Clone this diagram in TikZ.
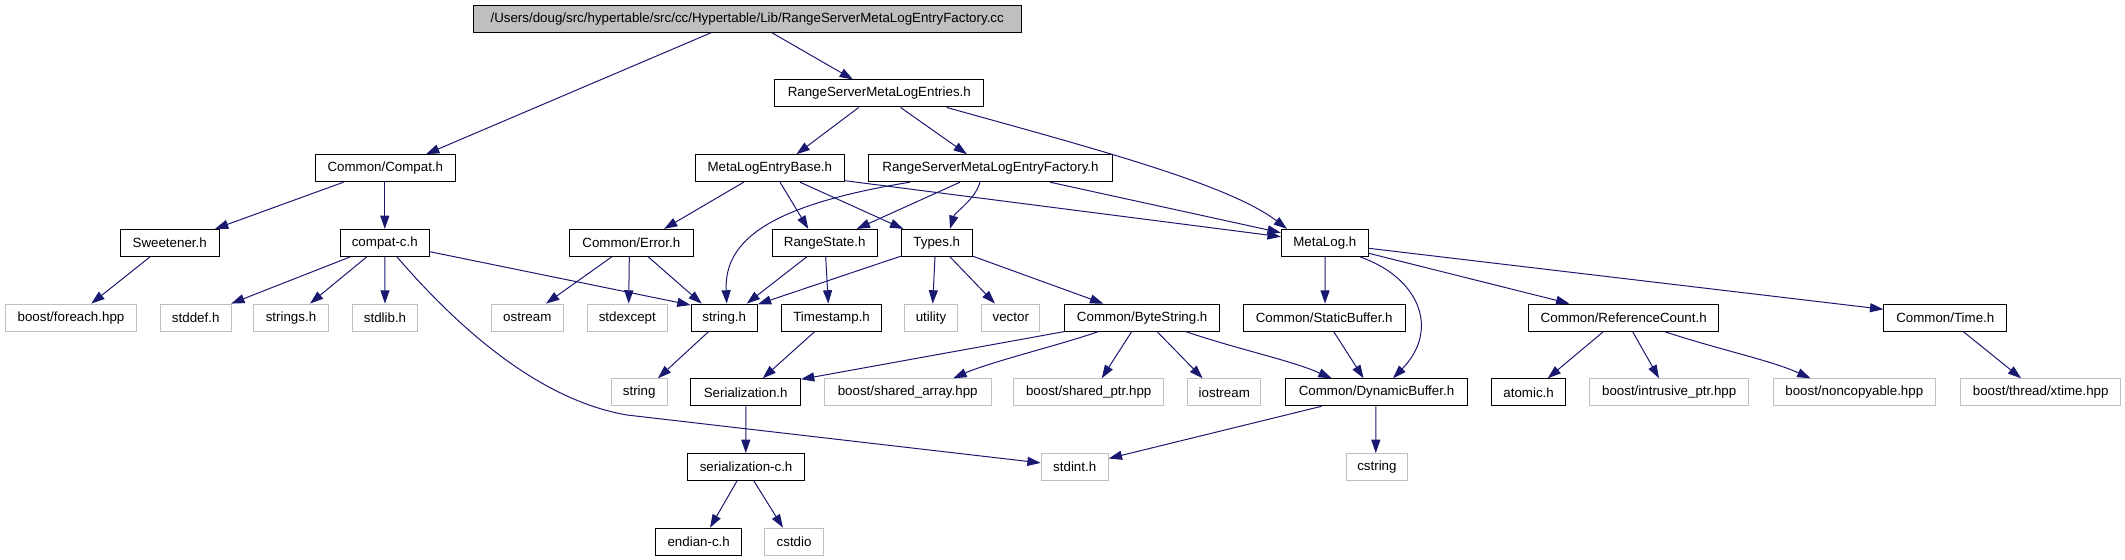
\documentclass[tikz,border=0pt]{standalone}
\usepackage{fontspec}
\setmainfont{Liberation Sans}
\usetikzlibrary{arrows.meta,calc}
\definecolor{edgecol}{HTML}{191970}
\definecolor{graybd}{HTML}{BFBFBF}
\tikzset{
  box/.style={draw=black, line width=0.75pt, inner sep=0pt, minimum height=20.25pt, font=\fontsize{10pt}{12pt}\selectfont, fill=white},
  doc/.style={box},
  ext/.style={box, draw=graybd},
  rootbox/.style={box, fill=graybd},
  wd/.style={minimum width=#1*0.75pt},
  edge/.style={draw=edgecol, line width=0.75pt, -{Triangle[length=10pt,width=6.8pt]}},
}
\newcommand{\edg}[4]{\draw[edge] ($(#1.south)+(#2,0)$) -- ($(#3.north)+(#4,0)$);}
\begin{document}
\begin{tikzpicture}[x=0.75pt,y=-0.75pt]
\useasboundingbox (0,0) rectangle (2125,560);
% row 0
\node[rootbox,wd=547.7] (root) at (747.2,18.8) {/Users/doug/src/hypertable/src/cc/Hypertable/Lib/RangeServerMetaLogEntryFactory.cc};
% row 1
\node[doc,wd=209] (rsmle) at (879.3,93.5) {RangeServerMetaLogEntries.h};
% row 2
\node[doc,wd=140] (compat) at (385.3,168.2) {Common/Compat.h};
\node[doc,wd=149] (mleb) at (769.8,168.2) {MetaLogEntryBase.h};
\node[doc,wd=243.6] (fact) at (990.5,168.2) {RangeServerMetaLogEntryFactory.h};
% row 3
\node[doc,wd=98.6] (sweet) at (169.7,242.9) {Sweetener.h};
\node[doc,wd=89] (compatc) at (384.8,242.9) {compat-c.h};
\node[doc,wd=124] (error) at (631.3,242.9) {Common/Error.h};
\node[doc,wd=104.7] (rstate) at (824.7,242.9) {RangeState.h};
\node[doc,wd=71] (types) at (936.8,242.9) {Types.h};
\node[doc,wd=87] (metalog) at (1324.8,242.9) {MetaLog.h};
% row 4
\node[ext,wd=131.2] (foreach) at (71,317.6) {boost/foreach.hpp};
\node[ext,wd=71] (stddef) at (195.7,317.6) {stddef.h};
\node[ext,wd=75] (strings) at (291,317.6) {strings.h};
\node[ext,wd=65.3] (stdlib) at (385,317.6) {stdlib.h};
\node[ext,wd=72] (ostream) at (527.3,317.6) {ostream};
\node[ext,wd=80] (stdexcept) at (627.3,317.6) {stdexcept};
\node[doc,wd=66.3] (stringh) at (724.2,317.6) {string.h};
\node[doc,wd=100] (tstamp) at (831.6,317.6) {Timestamp.h};
\node[ext,wd=52.7] (utility) at (931,317.6) {utility};
\node[ext,wd=58.2] (vector) at (1010.8,317.6) {vector};
\node[doc,wd=154.8] (bytes) at (1142.2,317.6) {Common/ByteString.h};
\node[doc,wd=161.6] (staticb) at (1324.2,317.6) {Common/StaticBuffer.h};
\node[doc,wd=190] (refc) at (1623.7,317.6) {Common/ReferenceCount.h};
\node[doc,wd=123] (time) at (1945.3,317.6) {Common/Time.h};
% row 5
\node[ext,wd=56] (string) at (639.2,392.3) {string};
\node[doc,wd=109.5] (serial) at (745.7,392.3) {Serialization.h};
\node[ext,wd=167] (sharr) at (907.7,392.3) {boost/shared\_array.hpp};
\node[ext,wd=150.4] (shptr) at (1088.7,392.3) {boost/shared\_ptr.hpp};
\node[ext,wd=73.3] (iostream) at (1224.3,392.3) {iostream};
\node[doc,wd=182] (dynb) at (1376.5,392.3) {Common/DynamicBuffer.h};
\node[doc,wd=73.3] (atomic) at (1528.6,392.3) {atomic.h};
\node[ext,wd=159] (intr) at (1669.2,392.3) {boost/intrusive\_ptr.hpp};
\node[ext,wd=162.3] (noncp) at (1854.3,392.3) {boost/noncopyable.hpp};
\node[ext,wd=160.3] (xtime) at (2040.7,392.3) {boost/thread/xtime.hpp};
% row 6
\node[doc,wd=117] (serc) at (746.1,467) {serialization-c.h};
\node[ext,wd=67] (stdint) at (1074.7,467) {stdint.h};
\node[ext,wd=61.8] (cstring) at (1376.9,467) {cstring};
% row 7
\node[doc,wd=86] (endian) at (698.7,541.7) {endian-c.h};
\node[ext,wd=58.8] (cstdio) at (794.1,541.7) {cstdio};

% edges
\edg{root}{-36.2}{compat}{40.7}
\edg{root}{24.8}{rsmle}{-26.3}
\edg{rsmle}{-20.6}{mleb}{26.7}
\edg{rsmle}{21.3}{fact}{-23.6}
\draw[edge] ($(rsmle.south)+(67.4,0)$) .. controls (1100,150) and (1230,185) .. ($(metalog.north)+(-37.8,0)$);
\edg{compat}{-41.8}{sweet}{45.3}
\edg{compat}{-0.5}{compatc}{0}
\edg{mleb}{-26.1}{error}{32.7}
\edg{mleb}{10.2}{rstate}{-16.4}
\edg{mleb}{30.2}{types}{-33.5}
\draw[edge] ($(mleb.south east)+(0,-1.5)$) -- ($(metalog.west)+(0,-6.2)$);
\draw[edge] ($(fact.south)+(-80.5,0)$) .. controls (770,205) and (724,240) .. ($(stringh.north)+(2.5,0)$);
\edg{fact}{-30.5}{rstate}{32}
\draw[edge] ($(fact.south)+(-10.5,0)$) .. controls (975,200) and (955,212) .. ($(types.north)+(13.2,0)$);
\draw[edge] ($(fact.south)+(59.5,0)$) -- ($(metalog.west)+(0,-10.2)$);
\edg{sweet}{-19.7}{foreach}{20.3}
\edg{compatc}{-34.6}{stddef}{35.5}
\edg{compatc}{-18.1}{strings}{19}
\edg{compatc}{0}{stdlib}{0}
\draw[edge] ($(compatc.east)+(0,8.8)$) -- ($(stringh.north west)+(0,1.4)$);
\draw[edge] ($(compatc.south)+(12.2,0)$) .. controls (460,330) and (540,400) .. (627,415) -- ($(stdint.west)+(0,-4.1)$);
\edg{error}{-19.6}{ostream}{18.7}
\edg{error}{-2}{stdexcept}{1.4}
\edg{error}{17}{stringh}{-22.5}
\edg{rstate}{-18}{stringh}{22.5}
\edg{rstate}{1}{tstamp}{-3.3}
\draw[edge] ($(types.south west)+(0,-0.7)$) -- ($(stringh.north east)+(0,0.7)$);
\edg{types}{-1.8}{utility}{1.7}
\edg{types}{13.2}{vector}{-15.8}
\draw[edge] ($(types.south east)+(0,-0.7)$) -- ($(bytes.north)+(-38.9,0)$);
\edg{metalog}{0.3}{staticb}{0.8}
\draw[edge] ($(metalog.south)+(35.2,0)$) .. controls (1420,278) and (1440,330) .. ($(dynb.north)+(16.5,0)$);
\draw[edge] ($(metalog.east)+(0,10.4)$) -- ($(refc.north)+(-54.3,0)$);
\draw[edge] ($(metalog.east)+(0,5.4)$) -- ($(time.west)+(0,-8.3)$);
\edg{stringh}{-15.6}{string}{18.7}
\edg{tstamp}{-16.9}{serial}{17}
\draw[edge] ($(bytes.south west)+(0,0)$) -- ($(serial.north east)+(0,1)$);
\draw[edge] ($(bytes.south)+(-43.9,0)$) .. controls (1060,345) and (990,362) .. ($(sharr.north)+(45.6,0)$);
\edg{bytes}{-10.5}{shptr}{13}
\edg{bytes}{14.9}{iostream}{-21.7}
\draw[edge] ($(bytes.south)+(43.5,0)$) .. controls (1240,350) and (1290,360) .. ($(dynb.north)+(-44.8,0)$);
\edg{staticb}{9.5}{dynb}{-12.9}
\edg{refc}{-20.3}{atomic}{19.1}
\edg{refc}{8.9}{intr}{-10.2}
\draw[edge] ($(refc.south)+(40.8,0)$) .. controls (1720,350) and (1770,360) .. ($(noncp.north)+(-43.8,0)$);
\edg{time}{18}{xtime}{-19.6}
\edg{serial}{0.1}{serc}{-0.3}
\draw[edge] ($(dynb.south)+(-55,0)$) -- ($(stdint.east)+(0,-8.5)$);
\edg{dynb}{-0.7}{cstring}{-1.1}
\edg{serc}{-9.1}{endian}{11.3}
\edg{serc}{7.8}{cstdio}{-11.1}
\end{tikzpicture}
\end{document}
